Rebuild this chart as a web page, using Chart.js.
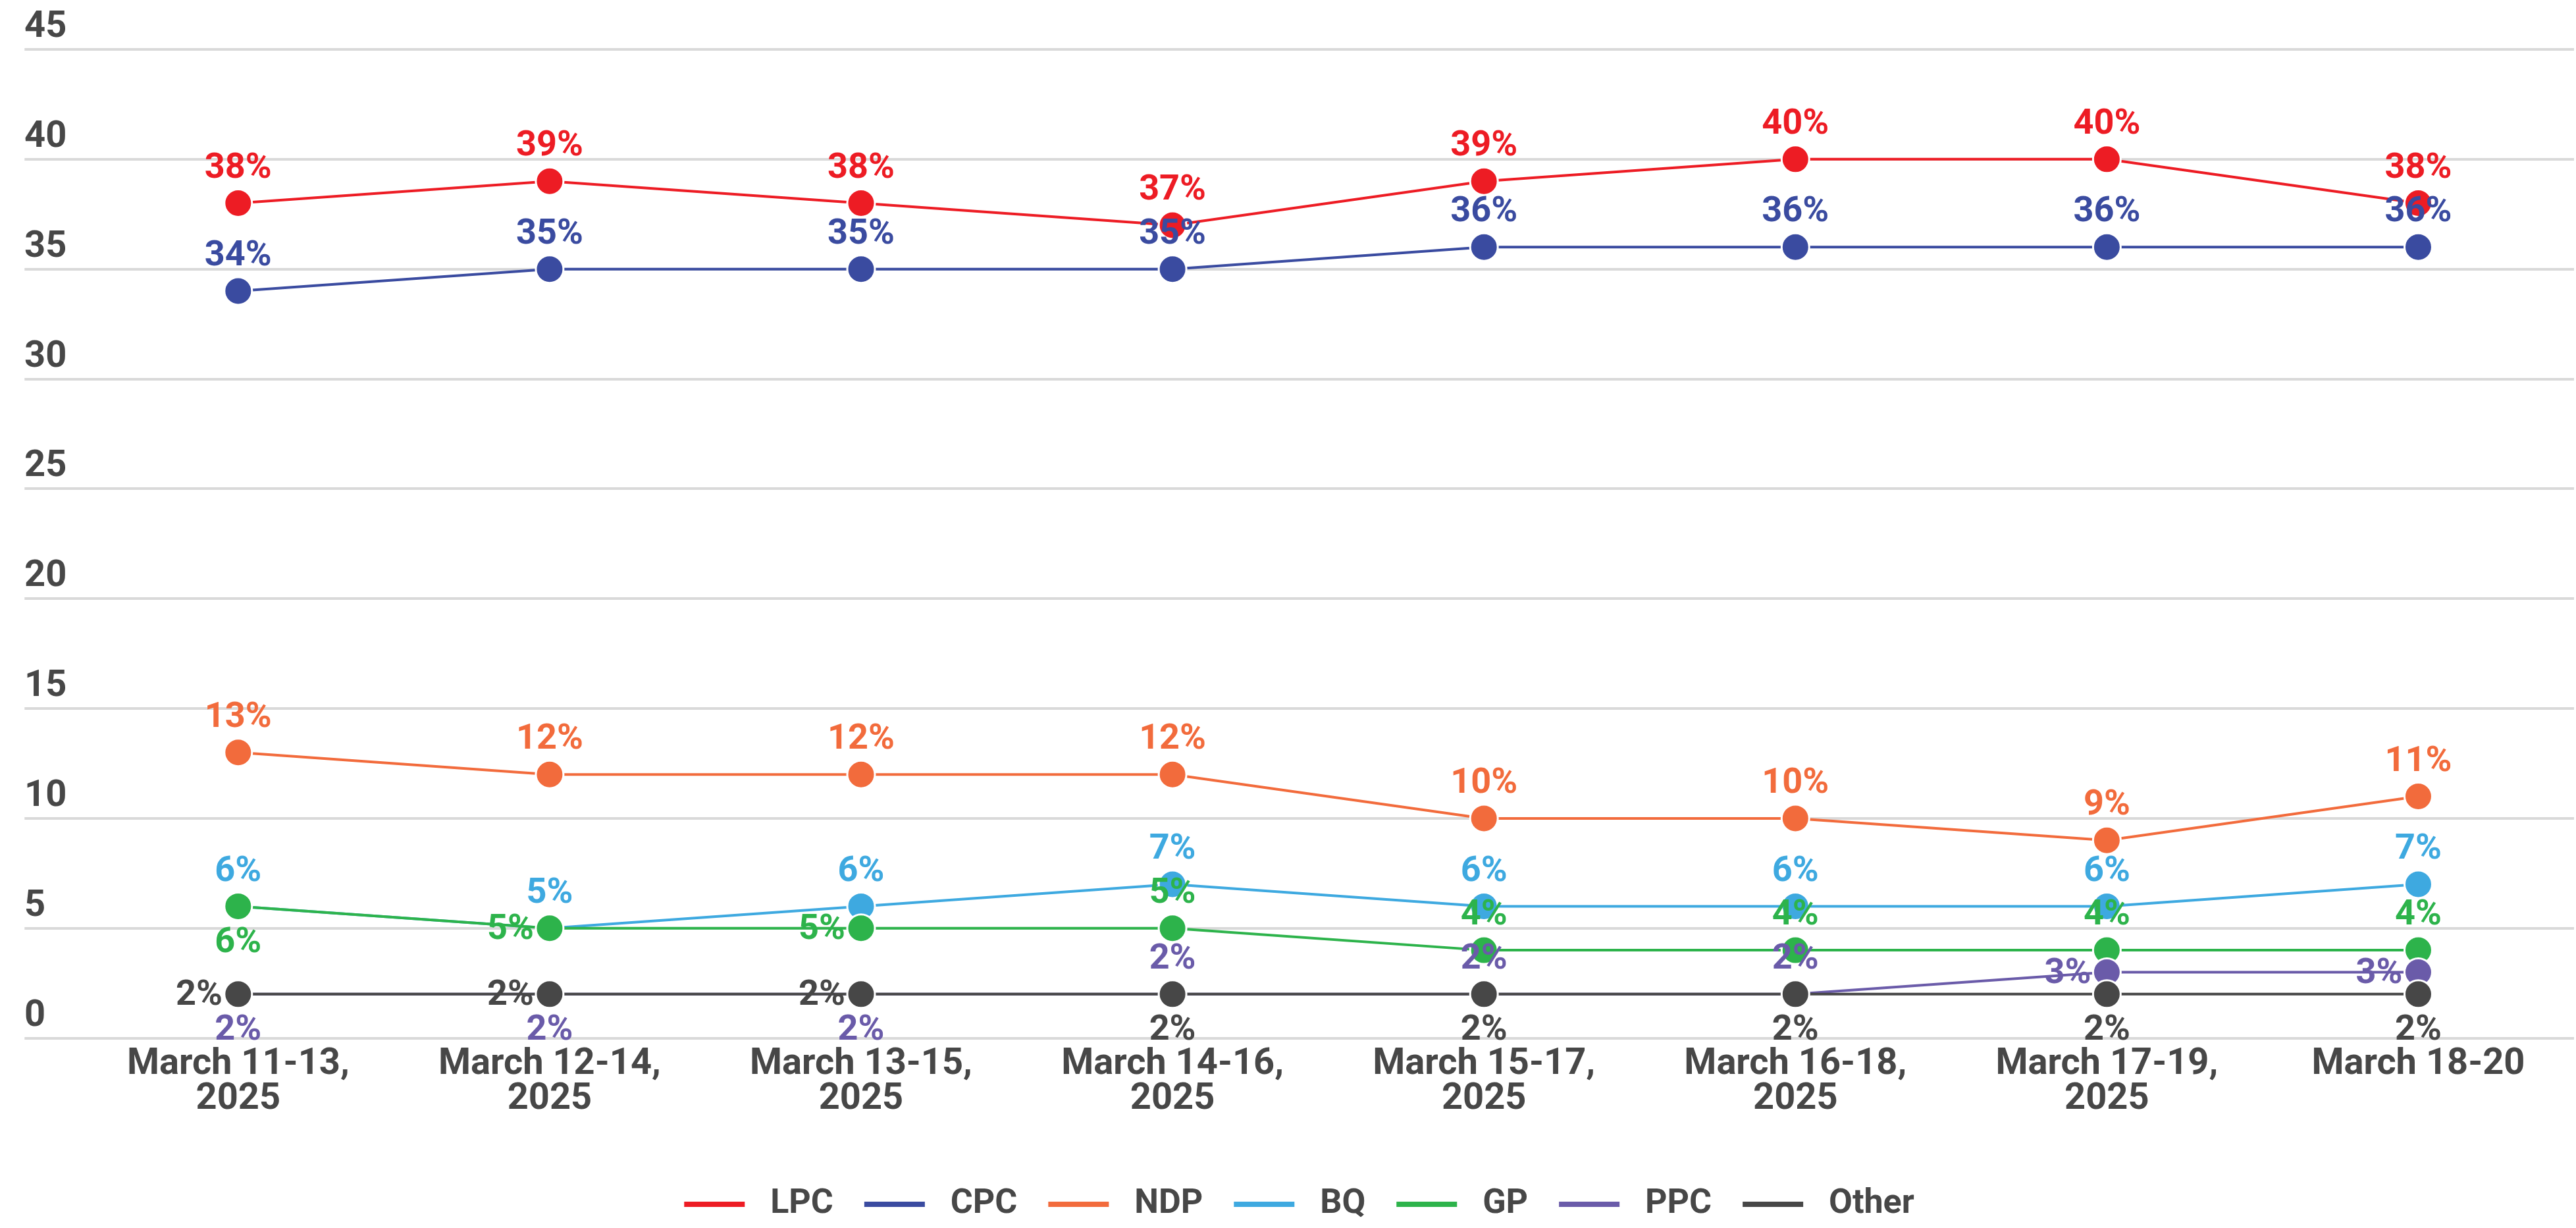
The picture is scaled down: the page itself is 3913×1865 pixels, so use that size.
<!DOCTYPE html>
<html>
<head>
<meta charset="utf-8">
<title>Federal vote intention, March 2025</title>
<script src="https://cdn.jsdelivr.net/npm/chart.js@4.4.1/dist/chart.umd.min.js"></script>
<style>
    html, body { margin: 0; padding: 0; background: #ffffff; }
    #wrap { width: 3913px; height: 1865px; }
</style>
</head>
<body>
<div id="wrap"><canvas id="pollChart" width="3913" height="1865"></canvas></div>
<script>
// Rolling three-day samples
const periods = [
    ['March 11-13,', '2025'],
    ['March 12-14,', '2025'],
    ['March 13-15,', '2025'],
    ['March 14-16,', '2025'],
    ['March 15-17,', '2025'],
    ['March 16-18,', '2025'],
    ['March 17-19,', '2025'],
    ['March 18-20']
];

// Vote share (%) per party
const lpc   = [38, 39, 38, 37, 39, 40, 40, 38];
const cpc   = [34, 35, 35, 35, 36, 36, 36, 36];
const ndp   = [13, 12, 12, 12, 10, 10, 9, 11];
const bq    = [6, 5, 6, 7, 6, 6, 6, 7];
const gp    = [6, 5, 5, 5, 4, 4, 4, 4];
const ppc   = [2, 2, 2, 2, 2, 2, 3, 3];
const other = [2, 2, 2, 2, 2, 2, 2, 2];

// Y axis range
const yMin = 0;
const yMax = 45;
const yStep = 5;

// Party colours
const colors = {
    LPC: '#ed1c24',
    CPC: '#3a4ba0',
    NDP: '#f26b3c',
    BQ: '#3ea9e0',
    GP: '#2db34b',
    PPC: '#6a5ba9',
    Other: '#474747'
};

// Where each value label sits relative to its point (default: above)
const labelPlaces = {
    GP:    ['below', 'left', 'left', 'above', 'above', 'above', 'above', 'above'],
    PPC:   ['below', 'below', 'below', 'above', 'above', 'above', 'left', 'left'],
    Other: ['left', 'left', 'left', 'below', 'below', 'below', 'below', 'below']
};

const FONT_FAMILY = 'Roboto, "Liberation Sans", sans-serif';
const TEXT_COLOR = '#474747';
const LABEL_SIZE = 54;

function makeDataset(label, values, idx, total) {
    return {
        label: label,
        data: values,
        borderColor: colors[label],
        backgroundColor: colors[label],
        borderWidth: 4,
        tension: 0,
        pointRadius: 21,
        pointHoverRadius: 21,
        pointBorderWidth: 3,
        pointBorderColor: '#ffffff',
        pointBackgroundColor: colors[label],
        order: total - 1 - idx // later parties drawn on top
    };
}

const series = [
    ['LPC', lpc], ['CPC', cpc], ['NDP', ndp], ['BQ', bq],
    ['GP', gp], ['PPC', ppc], ['Other', other]
];

// Value labels drawn next to each point
const valueLabels = {
    id: 'valueLabels',
    afterDatasetsDraw(chart) {
        const ctx = chart.ctx;
        const capHalf = LABEL_SIZE * 0.355;
        ctx.save();
        ctx.font = 'bold ' + LABEL_SIZE + 'px ' + FONT_FAMILY;
        ctx.textBaseline = 'alphabetic';
        chart.data.datasets.forEach((ds, i) => {
            const meta = chart.getDatasetMeta(i);
            const places = labelPlaces[ds.label];
            meta.data.forEach((pt, j) => {
                const where = places ? places[j] : 'above';
                let x = pt.x;
                let y = pt.y;
                if (where === 'above') {
                    ctx.textAlign = 'center';
                    y -= 58;
                } else if (where === 'below') {
                    ctx.textAlign = 'center';
                    y += 50;
                } else {
                    ctx.textAlign = 'right';
                    x -= 24;
                    y -= 3;
                }
                ctx.fillStyle = ds.borderColor;
                ctx.fillText(ds.data[j] + '%', x, y + capHalf);
            });
        });
        ctx.restore();
    }
};

const ctx = document.getElementById('pollChart').getContext('2d');
new Chart(ctx, {
    type: 'line',
    data: {
        labels: periods,
        datasets: series.map((s, i) => makeDataset(s[0], s[1], i, series.length))
    },
    options: {
        responsive: false,
        animation: false,
        layout: {
            autoPadding: false,
            padding: { left: 37, right: 3, top: 75, bottom: 0 }
        },
        plugins: {
            tooltip: { enabled: false },
            legend: {
                position: 'bottom',
                labels: {
                    boxWidth: 92,
                    boxHeight: 8,
                    padding: 47,
                    color: TEXT_COLOR,
                    font: { family: FONT_FAMILY, size: 52, weight: 'bold' },
                    generateLabels: chart => chart.data.datasets.map((ds, i) => ({
                        text: ' ' + ds.label,
                        fillStyle: ds.borderColor,
                        strokeStyle: ds.borderColor,
                        lineWidth: 0,
                        fontColor: TEXT_COLOR,
                        hidden: false,
                        datasetIndex: i
                    }))
                }
            }
        },
        scales: {
            x: {
                offset: true,
                grid: { display: false, drawTicks: false },
                border: { display: false },
                ticks: {
                    color: TEXT_COLOR,
                    padding: 14,
                    maxRotation: 0,
                    minRotation: 0,
                    autoSkip: false,
                    font: { family: FONT_FAMILY, size: 56, weight: 'bold', lineHeight: 0.95 }
                },
                title: {
                    display: true,
                    text: ' ',
                    color: 'rgba(0,0,0,0)',
                    font: { size: 10, lineHeight: 1 },
                    padding: { top: 35, bottom: 0 }
                },
                // labels sit well inside the offset bands, no edge padding needed
                afterFit: scale => {
                    scale.paddingLeft = 0;
                    scale.paddingRight = 0;
                }
            },
            y: {
                min: yMin,
                max: yMax,
                border: { display: false },
                grid: {
                    color: '#d9d9d9',
                    lineWidth: 4,
                    drawTicks: true,
                    tickLength: 88,
                    tickColor: '#d9d9d9'
                },
                ticks: {
                    stepSize: yStep,
                    crossAlign: 'far',
                    padding: -32,
                    labelOffset: -33,
                    color: TEXT_COLOR,
                    font: { family: FONT_FAMILY, size: 56, weight: 'bold' }
                }
            }
        }
    },
    plugins: [valueLabels]
});
</script>
</body>
</html>
